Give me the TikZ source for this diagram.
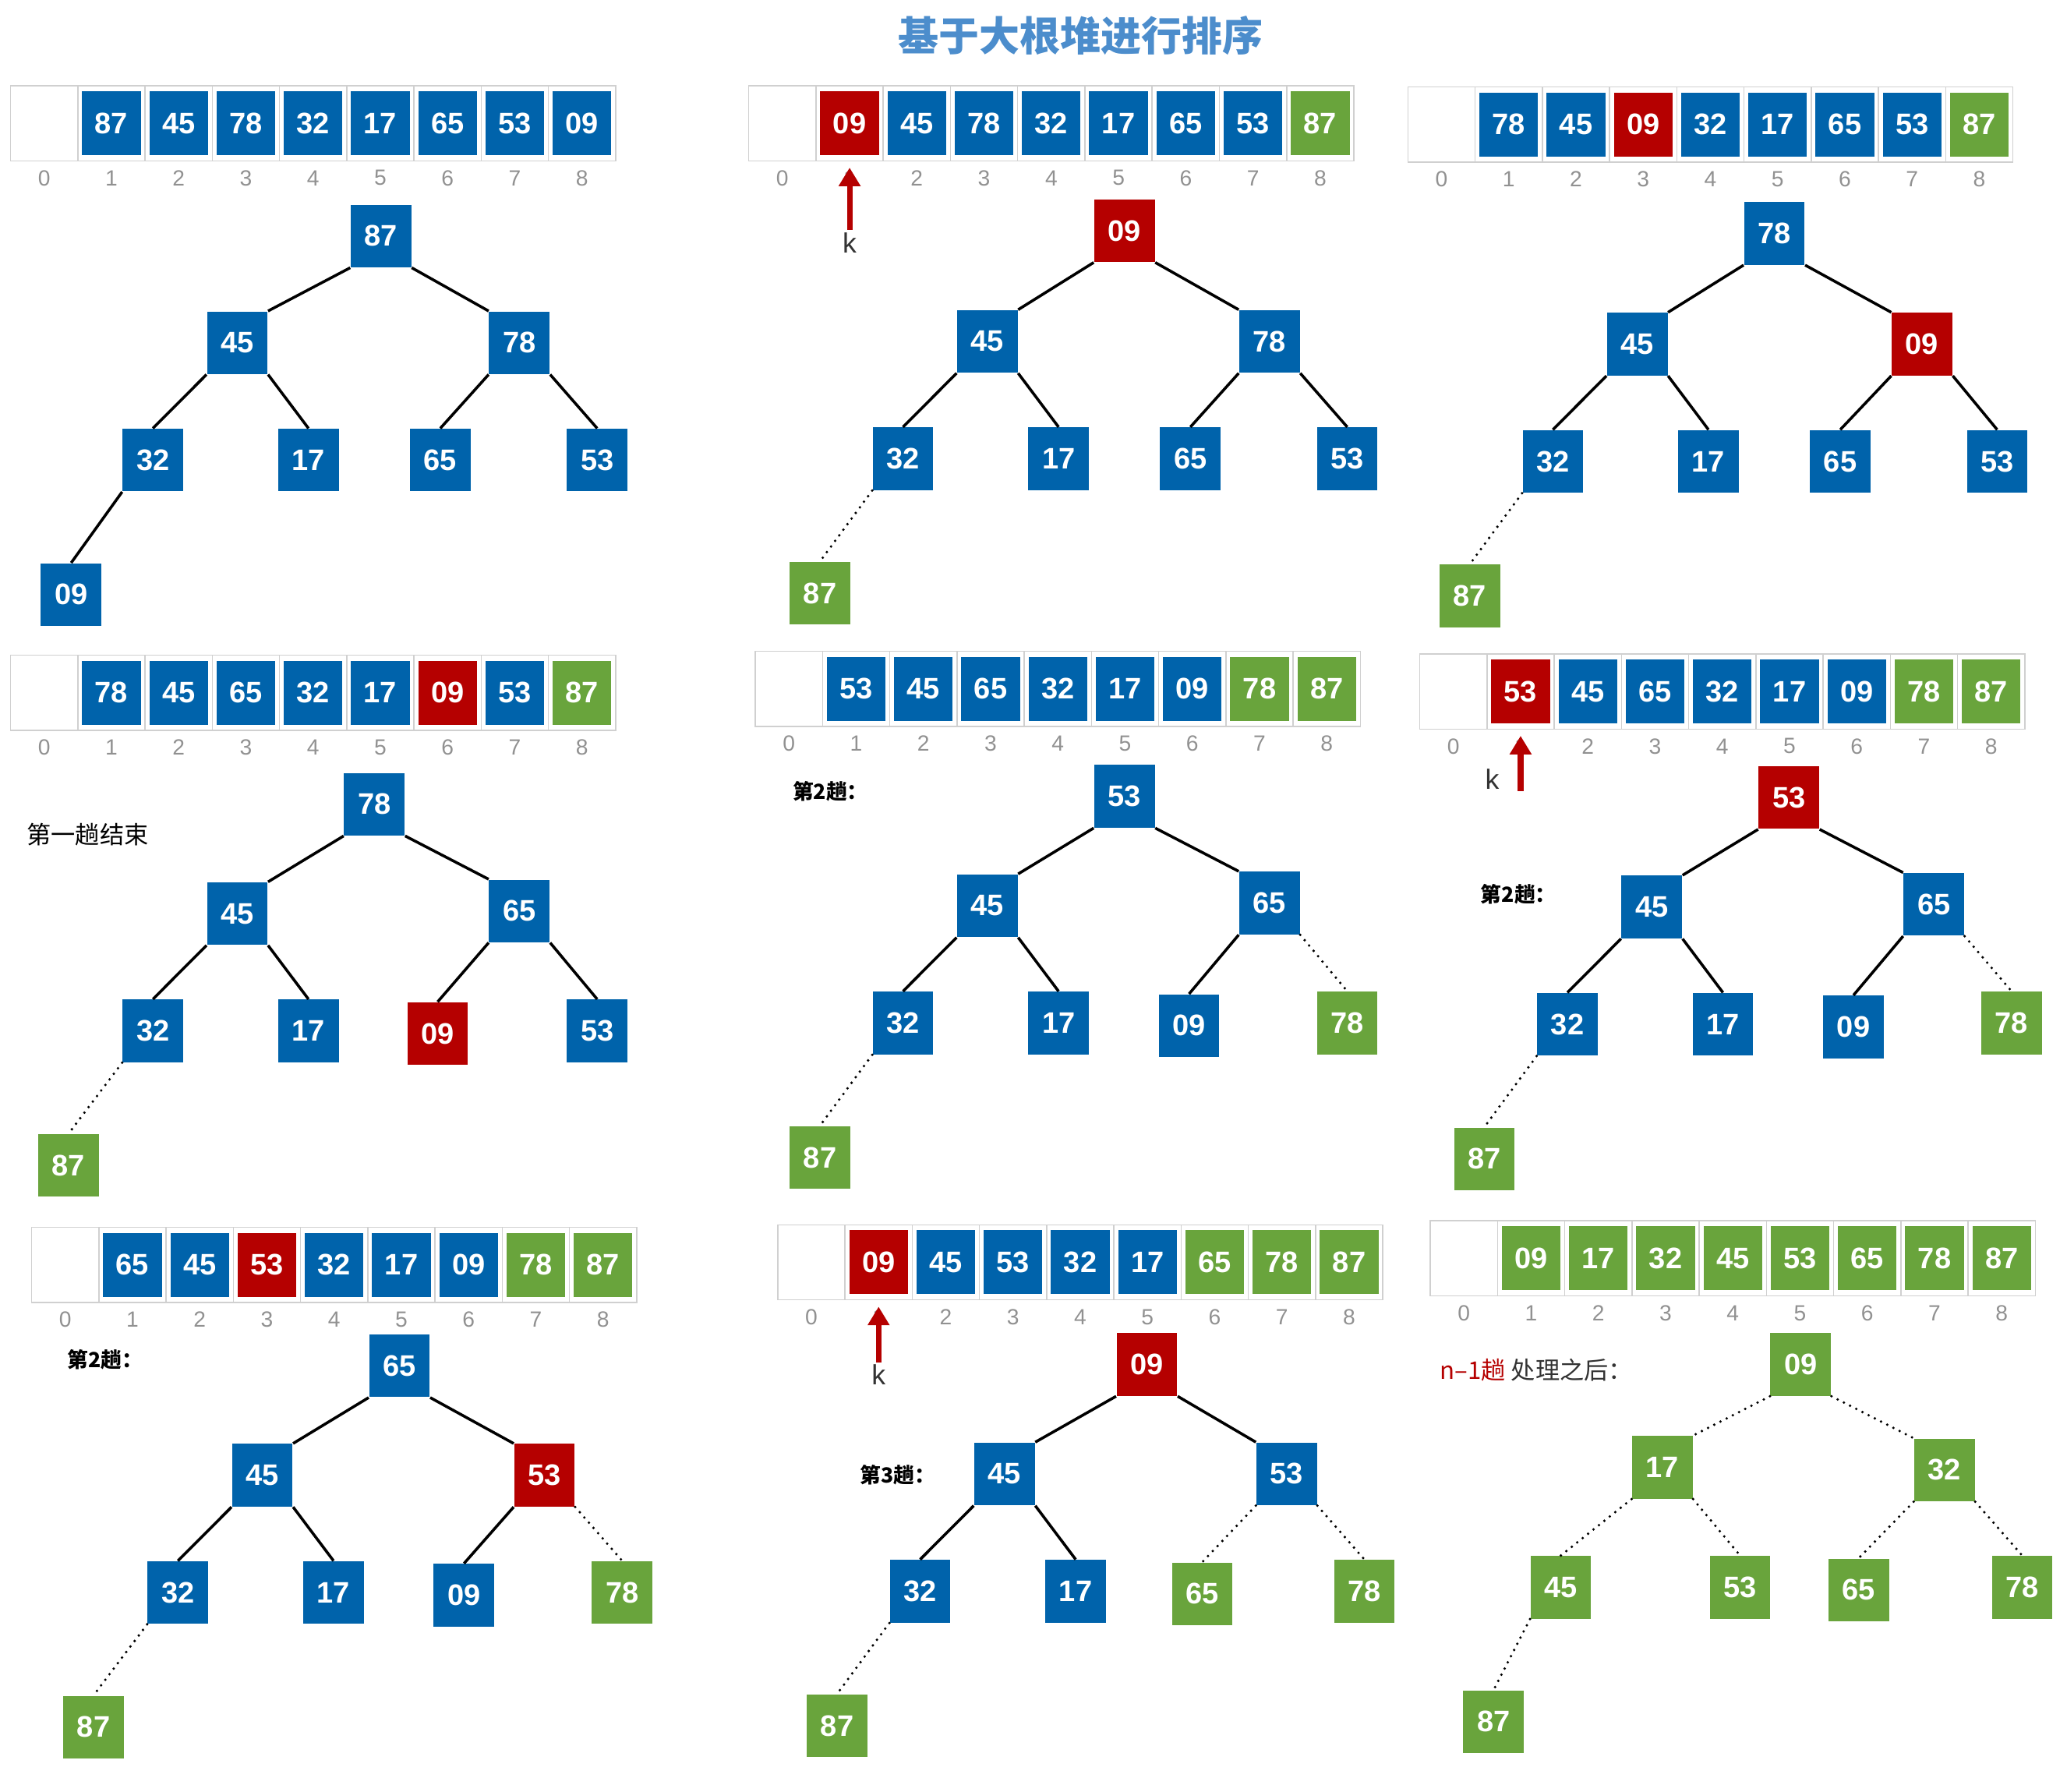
\documentclass[tikz,border=0pt]{standalone}
\usepackage{fontspec}
\setmainfont{Liberation Sans}
\newfontfamily\cjkfont{Noto Sans CJK SC}
\usetikzlibrary{arrows.meta}
\definecolor{hblue}{RGB}{0,99,171}
\definecolor{hred}{RGB}{181,0,0}
\definecolor{hgreen}{RGB}{105,164,60}
\definecolor{titleblue}{RGB}{76,141,204}
\definecolor{framegray}{RGB}{208,208,208}
\definecolor{indexgray}{RGB}{145,145,145}
\tikzset{
  heapnode/.style={minimum width=0.92cm, minimum height=0.95cm, inner sep=0pt, text=white, font=\bfseries\fontsize{12.8}{14}\selectfont},
  arrcell/.style={heapnode, minimum width=0.89cm, minimum height=0.97cm},
  arrframe/.style={draw=framegray, line width=0.5pt},
  idxlabel/.style={text=indexgray, font=\fontsize{9.5}{11}\selectfont, inner sep=1pt},
  link/.style={draw=black, line width=1.2pt},
  sortedlink/.style={draw=black, line width=1.2pt, line cap=round, dash pattern=on 0pt off 3pt},
  edge/.style={link},
  passlabel/.style={anchor=west, inner sep=0pt, font=\cjkfont\bfseries\fontsize{9}{11}\selectfont},
  notelabel/.style={anchor=west, inner sep=0pt, font=\cjkfont\fontsize{10.5}{12}\selectfont},
  klabel/.style={text=black!80, font=\fontsize{12}{14}\selectfont, inner sep=1pt},
  karrow/.style={draw=hred, line width=2.4pt, -{Triangle[width=9pt,length=8pt]}},
}

\begin{document}
\begin{tikzpicture}[x=0.02cm, y=-0.02cm]
\useasboundingbox (0,0) rectangle (1568,1359);
\node[text=titleblue, font=\cjkfont\bfseries\fontsize{17.5}{20}\selectfont] (title) at (820,27) {基于大根堆进行排序};
% arrays with index row
\foreach \p/\ax/\ay/\cells in {
  1/8/65/{87/hblue,45/hblue,78/hblue,32/hblue,17/hblue,65/hblue,53/hblue,09/hblue},
  2/568/65/{09/hred,45/hblue,78/hblue,32/hblue,17/hblue,65/hblue,53/hblue,87/hgreen},
  3/1068/66/{78/hblue,45/hblue,09/hred,32/hblue,17/hblue,65/hblue,53/hblue,87/hgreen},
  4/8/497/{78/hblue,45/hblue,65/hblue,32/hblue,17/hblue,09/hred,53/hblue,87/hgreen},
  5/573/494/{53/hblue,45/hblue,65/hblue,32/hblue,17/hblue,09/hblue,78/hgreen,87/hgreen},
  6/1077/496/{53/hred,45/hblue,65/hblue,32/hblue,17/hblue,09/hblue,78/hgreen,87/hgreen},
  7/24/931/{65/hblue,45/hblue,53/hred,32/hblue,17/hblue,09/hblue,78/hgreen,87/hgreen},
  8/590/929/{09/hred,45/hblue,53/hblue,32/hblue,17/hblue,65/hgreen,78/hgreen,87/hgreen},
  9/1085/926/{09/hgreen,17/hgreen,32/hgreen,45/hgreen,53/hgreen,65/hgreen,78/hgreen,87/hgreen}}{
  \draw[arrframe] (\ax,\ay) rectangle ++(459,57);
  \foreach \i in {1,...,8} \draw[arrframe] (\ax+51*\i,\ay) -- ++(0,57);
  \foreach \i in {0,...,8} \node[idxlabel] (p\p-i\i) at (\ax+25.5+51*\i,\ay+70) {\i};
  \foreach \v/\c [count=\i] in \cells
    \node[arrcell, fill=\c] (p\p-a\i) at (\ax+25.5+51*\i,\ay+28.5) {\v};
}
% heap trees
\foreach \i/\x/\y/\v/\c in {1/289/179/87/hblue,2/180/260/45/hblue,3/394/260/78/hblue,4/116/349/32/hblue,5/234/349/17/hblue,6/334/349/65/hblue,7/453/349/53/hblue,8/54/451/09/hblue}
  \node[heapnode, fill=\c] (p1-t\i) at (\x,\y) {\v};
\foreach \i/\x/\y/\v/\c in {1/853/175/09/hred,2/749/259/45/hblue,3/963/259/78/hblue,4/685/348/32/hblue,5/803/348/17/hblue,6/903/348/65/hblue,7/1022/348/53/hblue,8/622/450/87/hgreen}
  \node[heapnode, fill=\c] (p2-t\i) at (\x,\y) {\v};
\foreach \i/\x/\y/\v/\c in {1/1346/177/78/hblue,2/1242/261/45/hblue,3/1458/261/09/hred,4/1178/350/32/hblue,5/1296/350/17/hblue,6/1396/350/65/hblue,7/1515/350/53/hblue,8/1115/452/87/hgreen}
  \node[heapnode, fill=\c] (p3-t\i) at (\x,\y) {\v};
\foreach \i/\x/\y/\v/\c in {1/284/610/78/hblue,2/180/693/45/hblue,3/394/691/65/hblue,4/116/782/32/hblue,5/234/782/17/hblue,6/332/784/09/hred,7/453/782/53/hblue,8/52/884/87/hgreen}
  \node[heapnode, fill=\c] (p4-t\i) at (\x,\y) {\v};
\foreach \i/\x/\y/\v/\c in {1/853/604/53/hblue,2/749/687/45/hblue,3/963/685/65/hblue,4/685/776/32/hblue,5/803/776/17/hblue,6/902/778/09/hblue,7/1022/776/78/hgreen,8/622/878/87/hgreen}
  \node[heapnode, fill=\c] (p5-t\i) at (\x,\y) {\v};
\foreach \i/\x/\y/\v/\c in {1/1357/605/53/hred,2/1253/688/45/hblue,3/1467/686/65/hblue,4/1189/777/32/hblue,5/1307/777/17/hblue,6/1406/779/09/hblue,7/1526/776/78/hgreen,8/1126/879/87/hgreen}
  \node[heapnode, fill=\c] (p6-t\i) at (\x,\y) {\v};
\foreach \i/\x/\y/\v/\c in {1/303/1036/65/hblue,2/199/1119/45/hblue,3/413/1119/53/hred,4/135/1208/32/hblue,5/253/1208/17/hblue,6/352/1210/09/hblue,7/472/1208/78/hgreen,8/71/1310/87/hgreen}
  \node[heapnode, fill=\c] (p7-t\i) at (\x,\y) {\v};
\foreach \i/\x/\y/\v/\c in {1/870/1035/09/hred,2/762/1118/45/hblue,3/976/1118/53/hblue,4/698/1207/32/hblue,5/816/1207/17/hblue,6/912/1209/65/hgreen,7/1035/1207/78/hgreen,8/635/1309/87/hgreen}
  \node[heapnode, fill=\c] (p8-t\i) at (\x,\y) {\v};
\foreach \i/\x/\y/\v/\c in {1/1366/1035/09/hgreen,2/1261/1113/17/hgreen,3/1475/1115/32/hgreen,4/1184/1204/45/hgreen,5/1320/1204/53/hgreen,6/1410/1206/65/hgreen,7/1534/1204/78/hgreen,8/1133/1306/87/hgreen}
  \node[heapnode, fill=\c] (p9-t\i) at (\x,\y) {\v};
% tree edges, dotted into the sorted tail
\foreach \p/\ns in {1/0,2/1,3/1,4/1,5/2,6/2,7/2,8/3,9/8}
  \foreach \a/\fa/\b/\ba in {1/south west/2/north east,1/south east/3/north west,2/south west/4/north,2/south east/5/north,3/south west/6/north,3/south east/7/north,4/south west/8/north}{
    \ifnum\b>\numexpr8-\ns\relax \tikzset{edge/.style={sortedlink}}\fi
    \draw[edge] (p\p-t\a.\fa) -- (p\p-t\b.\ba);
  }
% k markers
\node[klabel] (p2k) at (644.5,184) {k};
\draw[karrow] (p2k.north) -- (p2-i1.north);
\node[klabel] (p6k) at (1132,591) {k};
\coordinate (p6tail) at (1153.5,600);
\draw[karrow] (p6tail) -- (p6-i1.north);
\node[klabel] (p8k) at (666.5,1043) {k};
\draw[karrow] (p8k.north) -- (p8-i1.north);
% pass notes
\node[notelabel] (pass1) at (20,633) {第一趟结束};
\node[passlabel] (pass2a) at (601,600) {第2趟：};
\node[passlabel] (pass2b) at (1123,678) {第2趟：};
\node[passlabel] (pass2c) at (51,1031) {第2趟：};
\node[passlabel] (pass3) at (652,1119) {第3趟：};
\node[notelabel] (final) at (1092,1039) {\textcolor{hred}{n–1趟} \textcolor{black!80}{处理之后：}};
\end{tikzpicture}
\end{document}
